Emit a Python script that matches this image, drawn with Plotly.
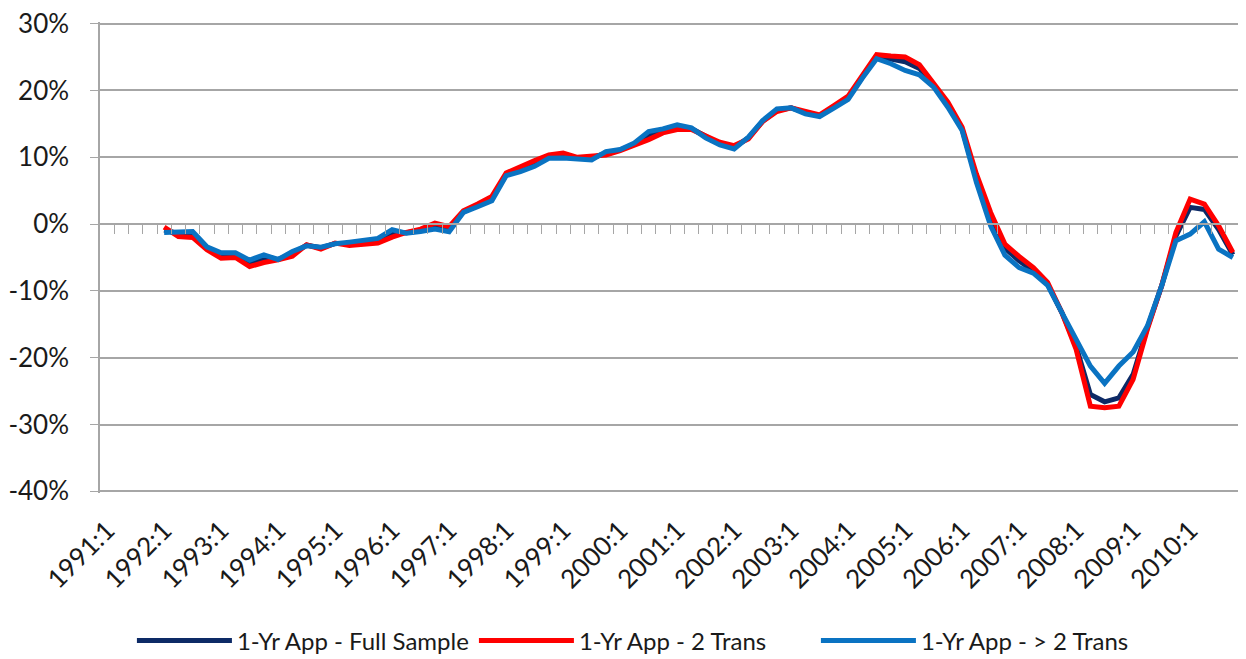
import plotly.graph_objects as go

# Category axis: quarterly, 1991:1 .. 2010:4
years = list(range(1991, 2011))
quarters = [f"{y}:{q}" for y in years for q in (1, 2, 3, 4)]
tick_labels = [f"{y}:1" for y in years]

# Y axis ticks (percent)
y_ticks = [-40, -30, -20, -10, 0, 10, 20, 30]
y_tick_text = ["-40%", "-30%", "-20%", "-10%", "0%", "10%", "20%", "30%"]

# Series start at 1992:1 (values in %)
series_start = "1992:1"

full_sample = [
    -0.9, -1.4, -1.5, -3.6, -4.6, -4.6, -5.8, -5.1, -5.3, -4.4, -3.15, -3.55,
    -2.9, -2.9, -2.7, -2.4, -1.3, -1.3, -0.95, -0.3, -0.8, 1.85, 2.8, 3.8,
    7.4, 8.2, 9.0, 10.1, 10.3, 9.9, 9.9, 10.6, 11.1, 12.0, 13.3, 14.0,
    14.5, 14.3, 13.1, 12.0, 11.5, 12.9, 15.4, 17.0, 17.4, 16.7, 16.2, 17.5,
    18.9, 22.0, 25.0, 24.7, 24.3, 23.3, 20.8, 17.9, 14.2, 6.8, 0.8, -3.6,
    -5.5, -7.0, -9.0, -13.25, -18.3, -25.5, -26.6, -26.0, -22.5, -15.5, -9.25, -1.8,
    2.5, 2.2, -0.8, -4.6,
]

two_trans = [
    -0.45, -1.85, -2.0, -3.85, -5.1, -5.0, -6.35, -5.75, -5.35, -4.8, -3.1, -3.75,
    -2.85, -3.2, -3.0, -2.85, -1.95, -1.25, -0.75, 0.15, -0.4, 2.0, 3.0, 4.15,
    7.65, 8.65, 9.5, 10.35, 10.65, 10.0, 10.15, 10.35, 11.0, 11.75, 12.65, 13.65,
    14.15, 14.15, 13.25, 12.25, 11.75, 12.75, 15.35, 16.85, 17.4, 16.85, 16.35, 17.75,
    19.15, 22.25, 25.35, 25.15, 25.0, 23.85, 21.0, 18.25, 14.5, 7.5, 1.75, -3.0,
    -4.85, -6.5, -8.75, -13.25, -18.75, -27.25, -27.5, -27.25, -23.25, -15.75, -9.25, -1.25,
    3.75, 3.0, -0.25, -4.25,
]

more_trans = [
    -1.25, -1.1, -1.1, -3.4, -4.3, -4.3, -5.4, -4.6, -5.3, -4.1, -3.25, -3.45,
    -2.95, -2.7, -2.5, -2.15, -0.85, -1.35, -1.1, -0.75, -1.15, 1.75, 2.6, 3.5,
    7.25, 7.85, 8.65, 9.85, 9.9, 9.75, 9.6, 10.85, 11.15, 12.15, 13.85, 14.25,
    14.85, 14.4, 12.9, 11.85, 11.25, 13.0, 15.5, 17.25, 17.4, 16.5, 16.1, 17.35,
    18.65, 21.85, 24.75, 24.0, 23.0, 22.35, 20.5, 17.5, 14.0, 6.25, -0.25, -4.65,
    -6.5, -7.35, -9.15, -13.25, -17.25, -21.25, -23.85, -21.25, -19.15, -15.25, -9.25, -2.5,
    -1.5, 0.35, -3.75, -5.0,
]

series_names = ["1-Yr App - Full Sample", "1-Yr App - 2 Trans", "1-Yr App - > 2 Trans"]
series_colors = ["#0D2A66", "#FF0000", "#0A73C2"]

x_vals = quarters[quarters.index(series_start):]
n_cat = len(quarters)

FONT = "Lato"
GRID = "#A6A6A6"
TEXT = "#1a1a1a"

fig = go.Figure()
for name, vals, col in zip(series_names, [full_sample, two_trans, more_trans], series_colors):
    fig.add_trace(go.Scatter(
        x=x_vals, y=vals, name=name, mode="lines",
        line=dict(color=col, width=5),
        hovertemplate="%{x}: %{y:.1f}%<extra>" + name + "</extra>",
    ))

# Excel-style category axis line through 0% with tick marks between categories
boundaries = [i + 0.5 for i in range(n_cat)]
fig.add_trace(go.Scatter(x=[None], y=[None], xaxis="x2", showlegend=False,
                         hoverinfo="skip", mode="lines"))

# small padding so the 30% / -40% gridlines are drawn
y_lo, y_hi = -40.25, 30.25

fig.update_layout(
    width=1238, height=651, autosize=False,
    margin=dict(l=92, r=6, t=14.3, b=166.3),
    paper_bgcolor="white", plot_bgcolor="white",
    font=dict(family=FONT, color=TEXT),
    showlegend=True,
    legend=dict(
        orientation="h", x=0.028, xanchor="left",
        yref="container", y=1 - 633 / 651, yanchor="middle",
        font=dict(family=FONT, size=24, color=TEXT),
        itemwidth=95, entrywidth=232, entrywidthmode="pixels",
        traceorder="normal",
    ),
    xaxis=dict(
        type="category", categoryorder="array", categoryarray=quarters,
        range=[-0.5, n_cat - 0.5], automargin=False,
        tickmode="array", tickvals=tick_labels, ticktext=tick_labels,
        tickangle=-45, ticks="", showgrid=False, zeroline=False, showline=False,
        tickfont=dict(family=FONT, size=26, color=TEXT),
        ticklabelstandoff=16,
    ),
    xaxis2=dict(
        overlaying="x", anchor="free", position=(0 - y_lo) / (y_hi - y_lo),
        range=[-0.5, n_cat - 0.5], showgrid=False, zeroline=False,
        showline=True, linecolor=GRID, linewidth=1.5,
        tickmode="array", tickvals=boundaries, ticks="outside", ticklen=9,
        tickcolor=GRID, tickwidth=1.3, showticklabels=False,
    ),
    yaxis=dict(
        range=[y_lo, y_hi], tickmode="array", tickvals=y_ticks, ticktext=y_tick_text,
        showgrid=True, gridcolor=GRID, gridwidth=1.5, automargin=False,
        zeroline=False, showline=True, linecolor=GRID, linewidth=1.5,
        ticks="outside", ticklen=8, tickcolor=GRID, tickwidth=1.3,
        tickfont=dict(family=FONT, size=26, color=TEXT),
        ticklabelstandoff=16, ticklabeloverflow="allow",
    ),
)

fig.write_html("out.html")
